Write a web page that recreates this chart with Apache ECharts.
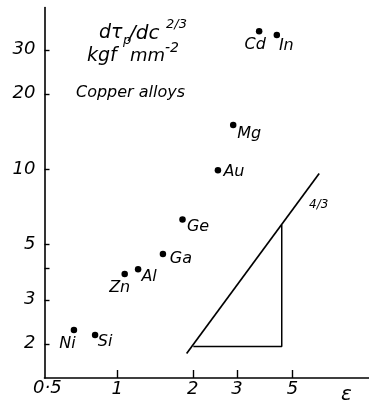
<!DOCTYPE html>
<html>
<head>
<meta charset="utf-8">
<script src="https://cdn.jsdelivr.net/npm/echarts@6/dist/echarts.min.js"></script>
<style>
html,body{margin:0;padding:0;background:#fff;}
#c{width:369px;height:404px;}
</style>
</head>
<body>
<div id="c"></div>
<script>
// ---- data ----
const elements = ['Ni', 'Si', 'Zn', 'Al', 'Ga', 'Ge', 'Au', 'Mg', 'Cd', 'In'];
const epsilon  = [0.671, 0.815, 1.07, 1.21, 1.52, 1.82, 2.52, 2.90, 3.68, 4.33];
const hardening = [2.27, 2.17, 3.80, 3.97, 4.57, 6.29, 9.9, 15.0, 35.6, 34.4];

const slopeLineEps = [1.89, 6.39];
const slopeLineVal = [1.83, 9.61];
const triangleEps = [2.01, 4.53, 4.53];
const triangleVal = [1.95, 1.95, 5.97];

const xTickValues = [1, 2, 3, 5];
const xFirstLabel = '0·5';
const yTickValues = [2, 3, 4, 5, 10, 20, 30];
const yLabelValues = [2, 3, 5, 10, 20, 30];

// ---- styles ----
const FONT = 'DejaVu Sans';
const INK = '#000';
const labelOffsets = {
  Ni: [-6.5, 14], Si: [10, 7], Zn: [-5, 14], Al: [11, 8], Ga: [18, 5],
  Ge: [15.5, 7], Au: [16, 1.5], Mg: [16, 9], Cd: [-4, 14], In: [9.5, 11]
};

const chart = echarts.init(document.getElementById('c'), null, {renderer: 'canvas'});

const pts = elements.map((n, i) => ({
  name: n,
  value: [epsilon[i], hardening[i]],
  label: {offset: labelOffsets[n]}
}));

const txt = (left, top, text, size) => ({
  type: 'text', left: left, top: top,
  style: {text: text, font: 'italic ' + size + 'px "DejaVu Sans"', fill: INK}
});

const option = {
  animation: false,
  backgroundColor: '#fff',
  grid: {left: 44.5, right: 0, top: 7.5, bottom: 26},
  xAxis: {
    type: 'log', logBase: 10, min: 0.512, max: 10.1,
    axisLine: {lineStyle: {color: INK, width: 1.6}},
    axisTick: {inside: true, length: 8, lineStyle: {color: INK, width: 1.4}, customValues: xTickValues},
    axisLabel: {customValues: xTickValues, color: INK, fontSize: 18, fontStyle: 'italic',
      fontFamily: FONT, margin: 2},
    splitLine: {show: false}, minorTick: {show: false}
  },
  yAxis: {
    type: 'log', logBase: 10, min: 1.459, max: 44.3,
    axisLine: {lineStyle: {color: INK, width: 1.6}},
    axisTick: {inside: true, length: 5, lineStyle: {color: INK, width: 1.4}, customValues: yTickValues},
    axisLabel: {customValues: yLabelValues, color: INK, fontSize: 18, fontStyle: 'italic',
      fontFamily: FONT, margin: 9},
    splitLine: {show: false}, minorTick: {show: false}
  },
  series: [
    {
      type: 'scatter', data: pts, symbol: 'circle', symbolSize: 6.5,
      itemStyle: {color: INK, opacity: 1},
      label: {show: true, position: 'inside', formatter: p => p.name, opacity: 1,
        color: INK, textBorderWidth: 0, fontSize: 16, fontStyle: 'italic', fontFamily: FONT}
    },
    {
      type: 'line', data: slopeLineEps.map((x, i) => [x, slopeLineVal[i]]),
      symbol: 'none', lineStyle: {color: INK, width: 1.7}, silent: true
    },
    {
      type: 'line', data: triangleEps.map((x, i) => [x, triangleVal[i]]),
      symbol: 'none', lineStyle: {color: INK, width: 1.5}, silent: true
    }
  ],
  graphic: [
    txt(33, 379, xFirstLabel, 18),
    txt(341, 385, 'ε', 20),
    txt(309, 199, '4/3', 12),
    // title: d tau_p / dc^{2/3}
    txt(99, 24, 'dτ', 19),
    txt(123, 34, 'p', 13),
    txt(129, 24, '/dc', 20),
    txt(166, 18, '2/3', 13),
    // kgf mm^-2
    txt(87, 47, 'kgf', 19),
    txt(130, 47, 'mm', 18),
    txt(165, 41, '-2', 14),
    txt(76, 85, 'Copper alloys', 16)
  ]
};
chart.setOption(option);
</script>
</body>
</html>
